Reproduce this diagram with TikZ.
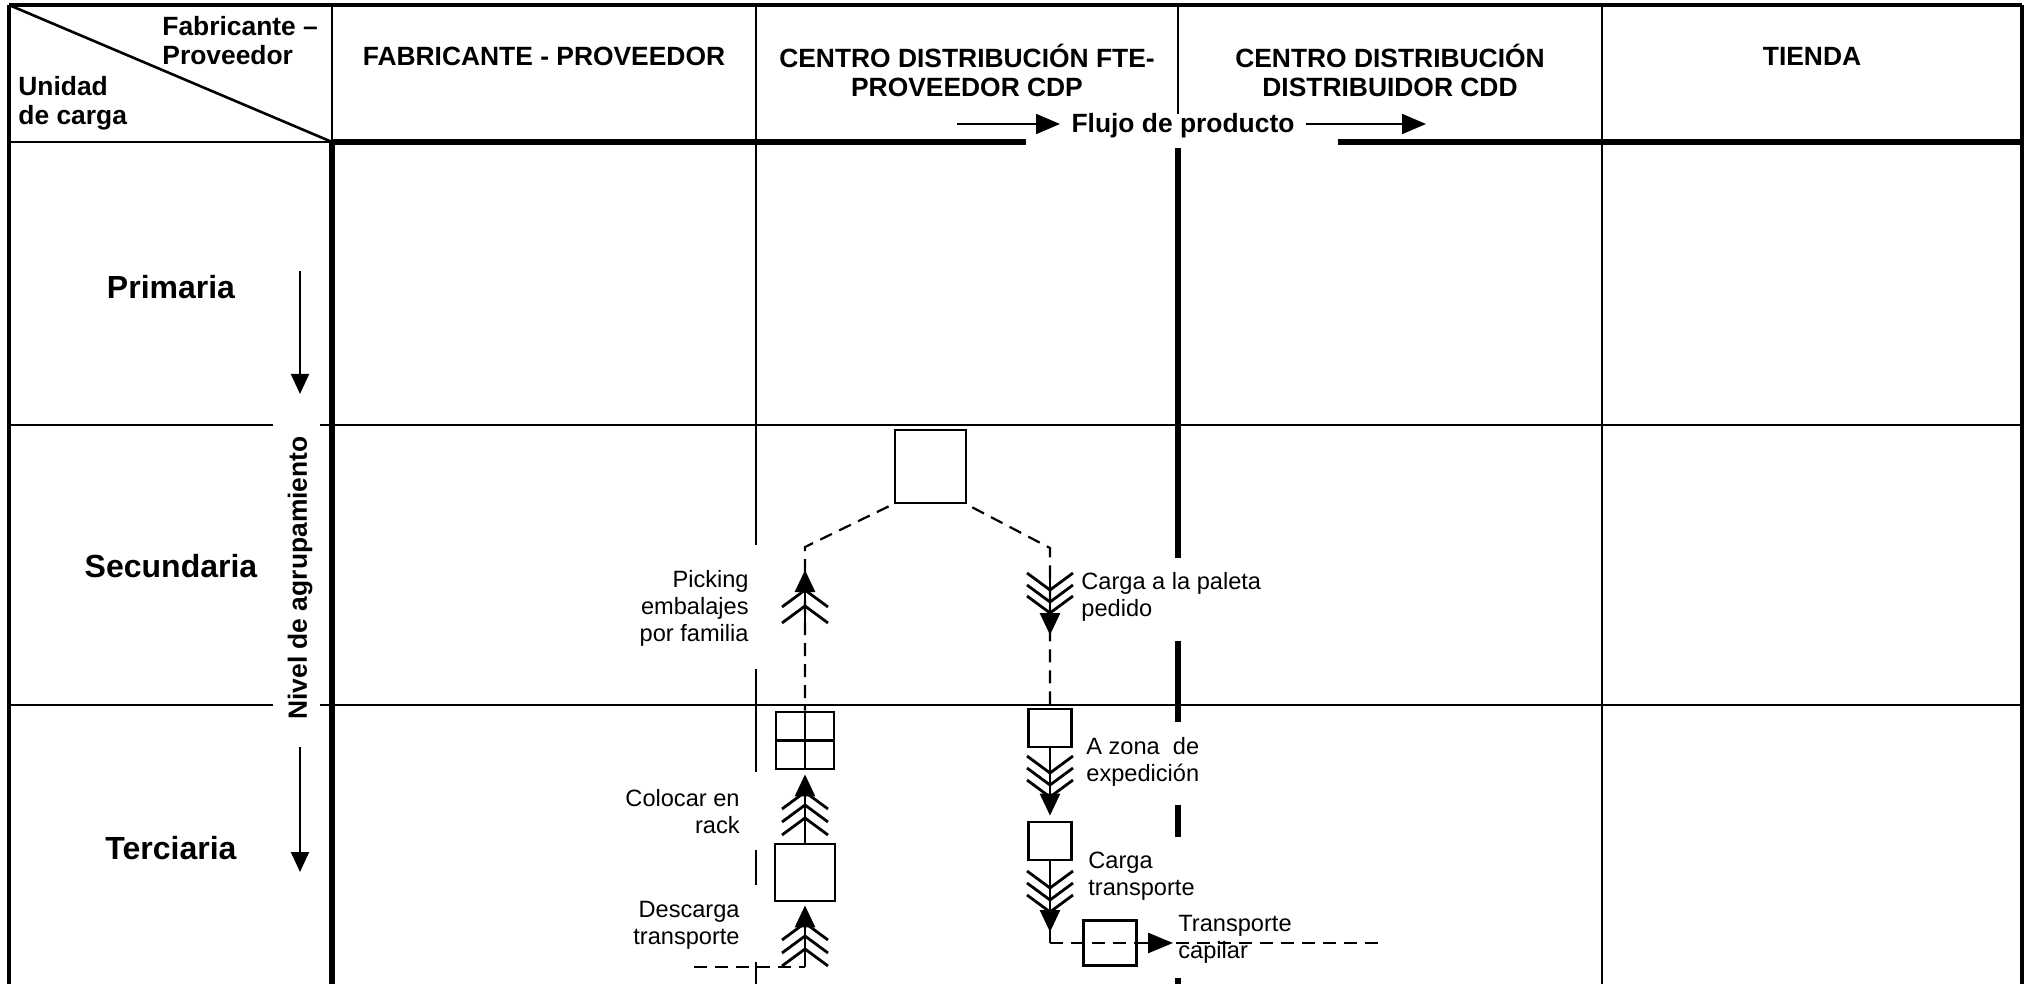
\documentclass[tikz,border=0pt]{standalone}
\usepackage{fontspec}
\setmainfont{Liberation Sans}
\usetikzlibrary{arrows.meta}
\begin{document}
\begin{tikzpicture}[x=0.5pt,y=-0.5pt,
  border/.style={line width=2pt},
  thinl/.style={line width=1.3pt},
  heavy/.style={line width=3.2pt},
  boxn/.style={draw, line width=1.4pt, inner sep=0pt},
  dashline/.style={line width=1.1pt, dash pattern=on 6.5pt off 4pt},
  solidline/.style={line width=1.4pt},
  tipa/.style={-{Triangle[length=11pt,width=10pt]}},
  tipb/.style={-{Triangle[length=12pt,width=10pt]}, line width=1pt},
  tipc/.style={-{Triangle[length=10pt,width=9pt]}, line width=1pt},
  hdr/.style={font=\fontsize{13.2}{14.5}\selectfont\bfseries, align=center, inner sep=0pt},
  rowlab/.style={font=\fontsize{16}{19}\selectfont\bfseries, inner sep=0pt},
  lab/.style={font=\fontsize{11.8}{13.5}\selectfont, inner sep=0pt},
  chevU/.pic={\draw[solidline] (-23,17) -- (0,0) -- (23,17);},
  chevD/.pic={\draw[solidline] (-23,-17) -- (0,0) -- (23,-17);}
]
\useasboundingbox (0,0) rectangle (2026,984);

% ---- frame and grid ----
\draw[border] (9,5) -- (2022,5);
\draw[border] (9,5) -- (9,984);
\draw[border] (2022,5) -- (2022,984);
\draw[thinl] (9,5) -- (332,142);
\draw[thinl] (9,142) -- (332,142);
\draw[heavy] (332,142) -- (1026,142);
\draw[heavy] (1338,142) -- (2022,142);
\draw[thinl] (332,5) -- (332,142);
\draw[heavy] (332,140) -- (332,984);
\draw[thinl] (756,5) -- (756,545) (756,669) -- (756,772) (756,850) -- (756,885) (756,962) -- (756,984);
\draw[thinl] (1178,5) -- (1178,114);
\draw[heavy] (1178,148) -- (1178,558) (1178,641) -- (1178,722) (1178,805) -- (1178,837) (1178,978) -- (1178,984);
\draw[thinl] (1602,5) -- (1602,984);
\draw[thinl] (9,425) -- (273,425) (320,425) -- (2022,425);
\draw[thinl] (9,705) -- (273,705) (320,705) -- (2022,705);

% ---- header texts ----
\node[hdr, align=left, anchor=west] (hfp) at (162,41) {Fabricante –\\Proveedor};
\node[hdr, align=left, anchor=west] (huc) at (18,103) {Unidad\\de carga};
\node[hdr] (h1) at (544,56) {FABRICANTE - PROVEEDOR};
\node[hdr] (h2) at (967,70.5) {CENTRO DISTRIBUCIÓN FTE-\\PROVEEDOR CDP};
\node[hdr] (h3) at (1390,70.5) {CENTRO DISTRIBUCIÓN\\DISTRIBUIDOR CDD};
\node[hdr] (h4) at (1812,56) {TIENDA};
\node[hdr, anchor=base] (flujo) at (1183,133) {Flujo de producto};
\coordinate (fa1) at (957,124);
\coordinate (fa2) at (1060,124);
\coordinate (fb1) at (1306,124);
\coordinate (fb2) at (1426,124);
\draw[tipb] (fa1) -- (fa2);
\draw[tipb] (fb1) -- (fb2);

% ---- row labels ----
\node[rowlab] (rp) at (171,287) {Primaria};
\node[rowlab] (rs) at (171,566) {Secundaria};
\node[rowlab] (rt) at (171,848) {Terciaria};
\node[hdr, rotate=90] (nivel) at (300,578) {Nivel de agrupamiento};
\coordinate (pa1) at (300,271);
\coordinate (pa2) at (300,394);
\coordinate (ta1) at (300,747);
\coordinate (ta2) at (300,872);
\draw[tipc] (pa1) -- (pa2);
\draw[tipc] (ta1) -- (ta2);

% ---- boxes ----
\node[boxn, minimum width=35.5pt, minimum height=36.5pt] (T) at (930.5,466.5) {};
\node[boxn, minimum width=29pt, minimum height=28.5pt] (G) at (805,740.5) {};
\draw[line width=1.4pt] (G.north) -- (G.south) (G.west) -- (G.east);
\node[boxn, minimum width=30pt, minimum height=28.5pt] (L) at (805,872.5) {};
\node[boxn, minimum width=21.5pt, minimum height=19pt] (R1) at (1050,728) {};
\node[boxn, minimum width=21.5pt, minimum height=19pt] (R2) at (1050,841) {};
\node[boxn, minimum width=26.5pt, minimum height=22.5pt] (TB) at (1110,943) {};

% ---- junctions ----
\coordinate (JL) at (805,547);
\coordinate (JR) at (1050,548);
\coordinate (DL) at (694,967);
\coordinate (DB) at (805,967);
\coordinate (C) at (1050,943);
\coordinate (CE) at (1383,943);
\coordinate (pk1) at (805,625);
\coordinate (pk2) at (805,570);
\coordinate (cp1) at (1050,572);
\coordinate (cp2) at (1050,635);
\coordinate (ct1) at (1050,870);
\coordinate (ct2) at (1050,932);
\coordinate (tc) at (1173,943);

% ---- left flow ----
\draw[dashline] ([shift={(-5,2)}]T.south west) -- (JL) -- (G.north);
\draw[solidline, tipa] (pk1) -- (pk2);
\pic at (805,590) {chevU};
\pic at (805,606) {chevU};
\draw[solidline, tipa, shorten >=2pt] (L.north) -- (G.south);
\pic at (805,792) {chevU};
\pic at (805,805) {chevU};
\pic at (805,818) {chevU};
\draw[dashline] (DL) -- (DB);
\draw[solidline, tipa, shorten >=1.5pt] (DB) -- (L.south);
\pic at (805,923) {chevU};
\pic at (805,936) {chevU};
\pic at (805,949) {chevU};

% ---- right flow ----
\draw[dashline] ([shift={(5,3)}]T.south east) -- (JR) -- (R1.north);
\draw[solidline, tipa] (cp1) -- (cp2);
\pic at (1050,590) {chevD};
\pic at (1050,602) {chevD};
\pic at (1050,613) {chevD};
\draw[solidline, tipa, shorten >=2.5pt] (R1.south) -- (R2.north);
\pic at (1050,773) {chevD};
\pic at (1050,785) {chevD};
\pic at (1050,797) {chevD};
\draw[solidline] (R2.south) -- (C);
\draw[solidline, tipa] (ct1) -- (ct2);
\pic at (1050,888) {chevD};
\pic at (1050,900) {chevD};
\pic at (1050,912) {chevD};
\draw[dashline] (C) -- (CE);
\draw[solidline, -{Triangle[length=12.5pt,width=10pt]}] (TB.east) -- (tc);

% ---- labels ----
\node[lab, align=right, anchor=east] (lpk) at (749,608) {Picking\\embalajes\\por familia};
\node[lab, align=left, anchor=west] (lcp) at (1081,597) {Carga a la paleta\\pedido};
\node[lab, align=left, anchor=west] (lze) at (1086,762) {A zona\ \ de\\expedición};
\node[lab, align=left, anchor=west] (lct) at (1088,876) {Carga\\transporte};
\node[lab, align=left, anchor=west] (ltc) at (1178,939) {Transporte\\capilar};
\node[lab, align=right, anchor=east] (lcr) at (740,812) {Colocar en\\rack};
\node[lab, align=right, anchor=east] (ldt) at (740,925) {Descarga\\transporte};
\end{tikzpicture}
\end{document}
